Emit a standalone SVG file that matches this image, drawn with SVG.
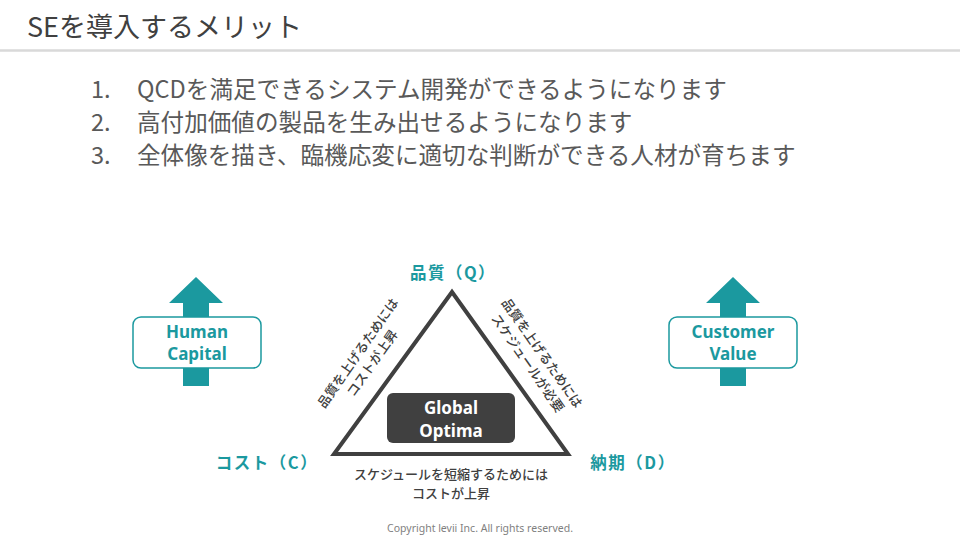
<svg xmlns="http://www.w3.org/2000/svg" width="960" height="540" viewBox="0 0 960 540">
<style>
.jp{font-family:"Noto Sans CJK JP","Noto Sans",sans-serif}
.title{font-size:27px;fill:#404040}
.list{font-size:23.6px;fill:#595959}
.axis{font-size:16.5px;font-weight:700;fill:#1b999f;letter-spacing:1.5px}
.note{font-size:13px;font-weight:500;fill:#404040}
.lat{font-family:"Noto Sans","Open Sans",sans-serif;font-weight:700;font-size:17px}
.teal{fill:#1b999f}
.box{fill:#ffffff;stroke:#1b999f;stroke-width:1.5}
</style>
<rect width="960" height="540" fill="#ffffff"/>
<g id="header">
<text class="jp title" x="27" y="37">SEを導入するメリット</text>
<line x1="0" y1="50.5" x2="960" y2="50.5" stroke="#d9d9d9" stroke-width="2.5"/>
</g>
<g id="list" class="jp list">
<text x="91" y="98">1.</text><text x="137" y="98">QCDを満足できるシステム開発ができるようになります</text>
<text x="91" y="131">2.</text><text x="137" y="131">高付加価値の製品を生み出せるようになります</text>
<text x="91" y="164">3.</text><text x="137" y="164">全体像を描き、臨機応変に適切な判断ができる人材が育ちます</text>
</g>
<g id="triangle">
<polygon points="452,292 334,454 568,454" fill="none" stroke="#404040" stroke-width="4" stroke-linejoin="miter"/>
</g>
<g id="quality"><text class="jp axis" x="453" y="279" text-anchor="middle">品質（Q）</text></g>
<g id="cost"><text class="jp axis" x="267" y="469" text-anchor="middle">コスト（C）</text></g>
<g id="delivery"><text class="jp axis" x="633" y="469" text-anchor="middle">納期（D）</text></g>
<g id="note-left" transform="translate(365,358) rotate(-55)">
<text class="jp note" x="0" y="-4" text-anchor="middle">品質を上げるためには</text>
<text class="jp note" x="0" y="13.5" text-anchor="middle">コストが上昇</text>
</g>
<g id="note-right" transform="translate(535,358) rotate(55)">
<text class="jp note" x="0" y="-4" text-anchor="middle">品質を上げるためには</text>
<text class="jp note" x="0" y="13.5" text-anchor="middle">スケジュールが必要</text>
</g>
<g id="note-bottom">
<text class="jp note" x="451" y="479" text-anchor="middle" font-size="13.4">スケジュールを短縮するためには</text>
<text class="jp note" x="451" y="498" text-anchor="middle" font-size="13.4">コストが上昇</text>
</g>
<g id="global-optima">
<rect x="387" y="393" width="128" height="50" rx="6" fill="#404040"/>
<text class="lat" x="451" y="414" text-anchor="middle" fill="#ffffff">Global</text>
<text class="lat" x="451" y="437" text-anchor="middle" fill="#ffffff">Optima</text>
</g>
<g id="human-capital">
<polygon class="teal" points="196,277 223,303 209,303 209,386 183,386 183,303 169,303"/>
<rect class="box" x="133" y="317" width="128" height="51" rx="8"/>
<text class="lat teal" x="197" y="338" text-anchor="middle">Human</text>
<text class="lat teal" x="197" y="360" text-anchor="middle">Capital</text>
</g>
<g id="customer-value">
<polygon class="teal" points="733,277 760,303 746,303 746,386 720,386 720,303 706,303"/>
<rect class="box" x="669" y="317" width="128" height="51" rx="8"/>
<text class="lat teal" x="733" y="338" text-anchor="middle">Customer</text>
<text class="lat teal" x="733" y="360" text-anchor="middle">Value</text>
</g>
<g id="connectors"></g>
<g id="footer">
<text x="480" y="532" text-anchor="middle" font-family="Noto Sans, sans-serif" font-size="10.5" fill="#7f7f7f">Copyright levii Inc. All rights reserved.</text>
</g>
</svg>
